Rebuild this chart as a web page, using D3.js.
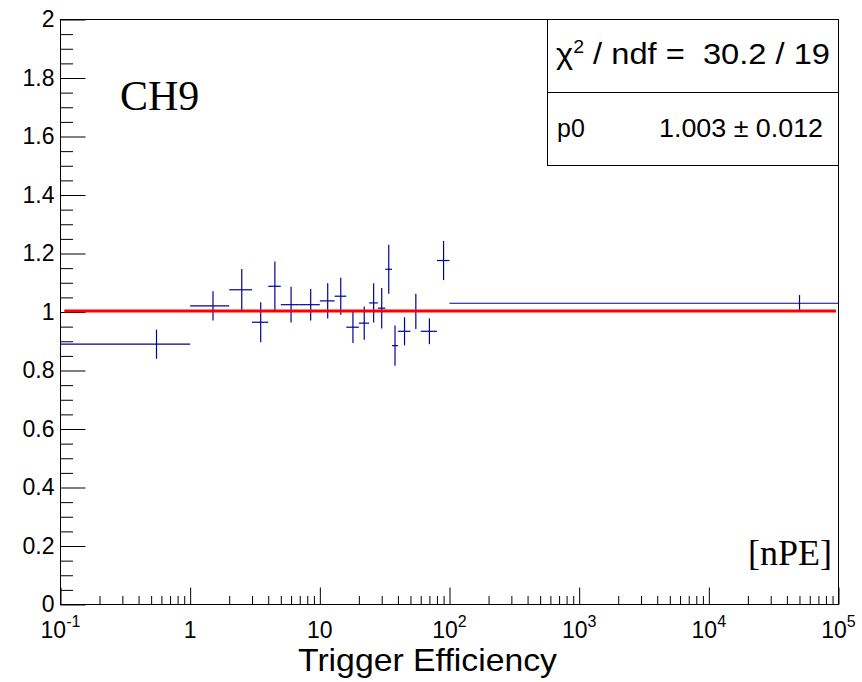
<!DOCTYPE html>
<html>
<head>
<meta charset="utf-8">
<script src="https://cdn.jsdelivr.net/npm/d3@7"></script>
<style>
  body { margin: 0; background: #fff; }
  svg { display: block; }
</style>
</head>
<body>
<div id="chart"></div>
<script>
// bin edges in nPE (variable width bins)
const binEdges = [0.1, 1, 2, 3, 4, 5, 7, 10, 13, 16, 20, 24, 28, 32, 36, 40, 50, 60, 80, 100, 1e5]
// ratio per bin
const binValues = [0.890, 1.021, 1.076, 0.965, 1.088, 1.025, 1.025, 1.038, 1.054, 0.948,
  0.962, 1.031, 1.013, 1.146, 0.885, 0.934, 1.002, 0.934, 1.176, 1.030]
const binErrors = [0.050, 0.050, 0.071, 0.068, 0.085, 0.061, 0.054, 0.060, 0.063, 0.054,
  0.057, 0.067, 0.069, 0.084, 0.069, 0.048, 0.060, 0.044, 0.067, 0.028]

// pol0 fit
const fitValue = 1.003
const fitRange = [0.107, 95700]
const statsLines = ['30.2 / 19', '1.003 \u00b1 0.012']

const xDecades = [-1, 0, 1, 2, 3, 4, 5]
const yMajor = [0, 0.2, 0.4, 0.6, 0.8, 1, 1.2, 1.4, 1.6, 1.8, 2]

const W = 862, H = 682
const frame = { left: 60.5, right: 838.5, top: 19.5, bottom: 604.5 }

const svg = d3.select('#chart').append('svg')
  .attr('width', W)
  .attr('height', H)
  .style('font-family', '"Liberation Sans", Arial, sans-serif')

const x = d3.scaleLog().domain([0.1, 1e5]).range([frame.left, frame.right])
const y = d3.scaleLinear().domain([0, 2]).range([frame.bottom, frame.top])

// minor tick values
const xMinor = []
xDecades.slice(0, -1).forEach(k => {
  for (let m = 2; m <= 9; m++) xMinor.push(m * Math.pow(10, k))
})
const yMinor = d3.range(0, 2.0001, 0.05).filter(v => Math.abs(v * 5 - Math.round(v * 5)) > 1e-6)

const gAxes = svg.append('g').attr('stroke-width', 1)

// x axis ticks (pointing inward)
gAxes.append('g')
  .attr('transform', `translate(0,${frame.bottom})`)
  .call(d3.axisBottom(x).tickValues(xDecades.map(k => Math.pow(10, k))).tickSizeInner(-17).tickSizeOuter(0).tickFormat(''))
gAxes.append('g')
  .attr('transform', `translate(0,${frame.bottom})`)
  .call(d3.axisBottom(x).tickValues(xMinor).tickSizeInner(-8.5).tickSizeOuter(0).tickFormat(''))

// y axis ticks
gAxes.append('g')
  .attr('transform', `translate(${frame.left},0)`)
  .call(d3.axisLeft(y).tickValues(yMajor).tickSizeInner(-25).tickSizeOuter(0).tickPadding(6).tickFormat(d3.format('~g')))
  .call(g => g.selectAll('text').style('font-size', '23px').attr('fill', '#000'))
gAxes.append('g')
  .attr('transform', `translate(${frame.left},0)`)
  .call(d3.axisLeft(y).tickValues(yMinor).tickSizeInner(-12.5).tickSizeOuter(0).tickFormat(''))

gAxes.selectAll('.domain').remove()
gAxes.selectAll('.tick line').attr('stroke', '#000')

// x tick labels, 10^k style
const xLab = svg.append('g')
  .selectAll('text')
  .data(xDecades)
  .join('text')
  .attr('x', k => x(Math.pow(10, k)))
  .attr('y', 638)
  .attr('text-anchor', 'middle')
  .style('font-size', '23px')
xLab.append('tspan').text(k => k === 0 ? '1' : '10')
xLab.filter(k => k !== 0 && k !== 1).append('tspan')
  .attr('dy', -11)
  .style('font-size', '16px')
  .text(k => k < 0 ? '-' + (-k) : String(k))

// frame
svg.append('rect')
  .attr('x', frame.left)
  .attr('y', frame.top)
  .attr('width', frame.right - frame.left)
  .attr('height', frame.bottom - frame.top)
  .attr('fill', 'none')
  .attr('stroke', '#000')
  .attr('stroke-width', 1)

// histogram with error bars
const bins = binValues.map((v, i) => ({
  lo: binEdges[i],
  hi: binEdges[i + 1],
  mid: (binEdges[i] + binEdges[i + 1]) / 2,
  v: v,
  e: binErrors[i]
}))

const gHist = svg.append('g')
  .attr('stroke', '#000099')
  .attr('stroke-width', 1.2)

gHist.selectAll('line.h')
  .data(bins)
  .join('line')
  .attr('class', 'h')
  .attr('x1', d => x(d.lo))
  .attr('x2', d => x(d.hi))
  .attr('y1', d => y(d.v))
  .attr('y2', d => y(d.v))

gHist.selectAll('line.v')
  .data(bins)
  .join('line')
  .attr('class', 'v')
  .attr('x1', d => x(d.mid))
  .attr('x2', d => x(d.mid))
  .attr('y1', d => y(d.v - d.e))
  .attr('y2', d => y(d.v + d.e))

// fit line
svg.append('line')
  .attr('x1', x(fitRange[0]))
  .attr('x2', x(fitRange[1]))
  .attr('y1', y(fitValue))
  .attr('y2', y(fitValue))
  .attr('stroke', '#ff0000')
  .attr('stroke-width', 3)

// stats box
const stats = svg.append('g')
stats.append('rect')
  .attr('x', 547.5)
  .attr('y', frame.top)
  .attr('width', frame.right - 547.5)
  .attr('height', 146)
  .attr('fill', '#fff')
  .attr('stroke', '#000')
stats.append('line')
  .attr('x1', 547.5)
  .attr('x2', frame.right)
  .attr('y1', 92.5)
  .attr('y2', 92.5)
  .attr('stroke', '#000')

const chi = stats.append('text')
  .attr('x', 556)
  .attr('y', 64)
  .attr('textLength', 274)
  .attr('lengthAdjust', 'spacingAndGlyphs')
  .style('font-size', '30px')
  .style('white-space', 'pre')
chi.append('tspan').text('\u03c7')
chi.append('tspan').attr('dy', -11).style('font-size', '18px').text('2')
chi.append('tspan').attr('dy', 11).text(' / ndf =  ' + statsLines[0])

stats.append('text')
  .attr('x', 557)
  .attr('y', 137)
  .style('font-size', '25px')
  .text('p0')
stats.append('text')
  .attr('x', 659)
  .attr('y', 137)
  .attr('textLength', 164)
  .attr('lengthAdjust', 'spacingAndGlyphs')
  .style('font-size', '25px')
  .text(statsLines[1])

// labels
svg.append('text')
  .attr('x', 120)
  .attr('y', 110)
  .style('font-family', '"Liberation Serif", "Times New Roman", serif')
  .style('font-size', '42px')
  .text('CH9')

svg.append('text')
  .attr('x', 832)
  .attr('y', 565)
  .attr('text-anchor', 'end')
  .style('font-family', '"Liberation Serif", "Times New Roman", serif')
  .style('font-size', '36px')
  .text('[nPE]')

svg.append('text')
  .attr('x', 298)
  .attr('y', 671)
  .attr('textLength', 259)
  .attr('lengthAdjust', 'spacingAndGlyphs')
  .style('font-size', '32px')
  .text('Trigger Efficiency')
</script>
</body>
</html>
